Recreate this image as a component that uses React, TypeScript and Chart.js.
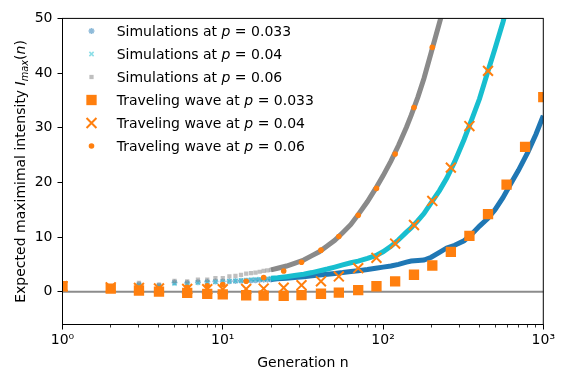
import React, { useEffect, useRef } from 'react';
import { Chart, registerables } from 'chart.js';
import { drawPoint } from 'chart.js/helpers';

Chart.register(...registerables);

const FAMILY = "'DejaVu Sans'";
const ORANGE = '#ff7f0e';

// Traveling-wave generations (log-spaced integers)
const waveN = [1, 2, 3, 4, 6, 8, 10, 14, 18, 24, 31, 41, 53, 70, 91, 119, 156, 203, 265, 346, 452, 590, 770, 1000];
const wave033 = [1.0, 0.55, 0.22, 0.02, -0.22, -0.4, -0.5, -0.65, -0.72, -0.77, -0.62, -0.38, -0.18, 0.28, 1.0, 1.9, 3.1, 4.8, 7.3, 10.2, 14.2, 19.6, 26.5, 35.6];
const wave04 = [1.0, 0.8, 0.7, 0.6, 0.5, 0.45, 0.45, 0.5, 0.57, 0.72, 1.2, 1.9, 2.8, 4.3, 6.2, 8.8, 12.2, 16.6, 22.7, 30.3, 40.4, null, null, null];
const wave06 = [1.0, 0.6, 0.5, 0.5, 0.8, 1.1, 1.3, 1.9, 2.6, 3.8, 5.4, 7.6, 10.1, 14.0, 18.9, 25.2, 33.7, 44.7, null, null, null, null, null, null];

// Simulation generations (sampled)
const simN = [3, 4, 5, 6, 7, 8, 9, 10, 11, 12, 13, 14, 15, 16, 17, 18, 19, 20, 22, 25, 28, 32, 36, 40, 45, 50, 56, 63, 70, 80, 90, 100, 112, 125, 140, 150, 165, 180, 200, 225, 250, 280, 320, 360, 400, 450, 500, 560, 630, 700, 800, 900, 1000];
const sim033 = [1.3, 1.1, 1.7, 1.6, 1.75, 1.8, 1.85, 1.85, 1.9, 1.95, 2.0, 2.0, 2.05, 2.1, 2.15, 2.2, 2.2, 2.25, 2.35, 2.45, 2.6, 2.75, 2.9, 3.05, 3.2, 3.35, 3.5, 3.7, 3.85, 4.05, 4.3, 4.5, 4.7, 5.0, 5.4, 5.6, 5.7, 5.8, 6.3, 7.2, 8.0, 8.5, 9.3, 10.6, 12.0, 13.4, 15.0, 17.2, 19.9, 22.2, 25.5, 28.8, 32.2];
const sim04 = [1.2, 1.0, 1.5, 1.45, 1.65, 1.7, 1.8, 1.85, 1.95, 2.0, 2.05, 2.1, 2.2, 2.25, 2.3, 2.35, 2.4, 2.45, 2.55, 2.75, 2.95, 3.2, 3.5, 3.8, 4.15, 4.5, 4.9, 5.3, 5.6, 6.1, 6.6, 7.3, 8.3, 9.5, 10.9, 11.7, 13.0, 14.3, 16.3, 18.5, 20.8, 23.8, 27.8, 31.7, 35.3, 40.2, 44.5, 49.3, 55.0, null, null, null, null];
const sim06 = [1.6, 1.3, 2.0, 1.9, 2.2, 2.2, 2.5, 2.5, 2.8, 2.9, 3.1, 3.3, 3.4, 3.5, 3.65, 3.8, 3.9, 4.0, 4.3, 4.7, 5.2, 5.8, 6.6, 7.3, 8.4, 9.4, 10.8, 12.3, 14.1, 16.5, 18.9, 21.2, 23.9, 26.8, 30.1, 32.3, 35.6, 39.0, 43.8, 49.2, 54.0, null, null, null, null, null, null, null, null, null, null, null, null];

const xTickLabels = ['10\u2070', '10\u00b9', '10\u00b2', '10\u00b3'];
const yTicks = [0, 10, 20, 30, 40, 50];

const legendLabels = [
  ['Simulations at ', '0.033'],
  ['Simulations at ', '0.04'],
  ['Simulations at ', '0.06'],
  ['Traveling wave at ', '0.033'],
  ['Traveling wave at ', '0.04'],
  ['Traveling wave at ', '0.06'],
];

const pts = (xs: number[], ys: (number | null)[]) =>
  xs.map((x, i) => ({ x, y: ys[i] })).filter((p) => p.y !== null);

const SMALL = 20;

const markerSpecs = [
  { style: 'star', r: 3, fill: 'rgba(31,119,180,0.5)', stroke: 'rgba(31,119,180,0.5)', bw: 1.5 },
  { style: 'crossRot', r: 3, fill: 'rgba(23,190,207,0.5)', stroke: 'rgba(23,190,207,0.5)', bw: 1.5 },
  { style: 'rect', r: 3, fill: 'rgba(127,127,127,0.5)', stroke: 'rgba(127,127,127,0.5)', bw: 0 },
  { style: 'rect', r: 7.3, fill: ORANGE, stroke: ORANGE, bw: 0 },
  { style: 'crossRot', r: 7, fill: ORANGE, stroke: ORANGE, bw: 2 },
  { style: 'circle', r: 2.8, fill: ORANGE, stroke: ORANGE, bw: 0 },
];

const decorPlugin = {
  id: 'decor',
  beforeDatasetsDraw(chart: any) {
    const { ctx, chartArea, scales } = chart;
    const y0 = scales.y.getPixelForValue(0);
    ctx.save();
    ctx.strokeStyle = '#8c8c8c';
    ctx.lineWidth = 2;
    ctx.beginPath();
    ctx.moveTo(chartArea.left, y0);
    ctx.lineTo(chartArea.right, y0);
    ctx.stroke();
    ctx.restore();
  },
  afterDatasetsDraw(chart: any) {
    const { ctx, chartArea, scales } = chart;
    const { left, right, top, bottom } = chartArea;
    ctx.save();
    // frame
    ctx.strokeStyle = '#000';
    ctx.lineWidth = 1;
    ctx.strokeRect(left, top, right - left, bottom - top);
    // x ticks
    for (let e = 0; e <= 3; e++) {
      for (let m = 1; m <= 9; m++) {
        const v = m * Math.pow(10, e);
        if (v > 1000) break;
        const px = Math.round(scales.x.getPixelForValue(v) - 0.5) + 0.5;
        const major = m === 1;
        ctx.lineWidth = major ? 1 : 0.8;
        ctx.beginPath();
        ctx.moveTo(px, bottom);
        ctx.lineTo(px, bottom + (major ? 5 : 3));
        ctx.stroke();
      }
    }
    // y ticks
    ctx.lineWidth = 1;
    yTicks.forEach((v) => {
      const py = Math.round(scales.y.getPixelForValue(v) - 0.5) + 0.5;
      ctx.beginPath();
      ctx.moveTo(left - 5, py);
      ctx.lineTo(left, py);
      ctx.stroke();
    });
    ctx.restore();

    // legend
    const normal = `14px ${FAMILY}`;
    const italic = `italic 14px ${FAMILY}`;
    legendLabels.forEach((lab, i) => {
      const base = 35.6 + 23 * i;
      const my = base - 4.6;
      const s = markerSpecs[i];
      ctx.save();
      ctx.fillStyle = s.fill;
      ctx.strokeStyle = s.stroke;
      ctx.lineWidth = s.bw;
      drawPoint(ctx, { pointStyle: s.style, radius: s.r, borderWidth: s.bw, rotation: 0 } as any, 91.5, my);
      ctx.restore();
      ctx.save();
      ctx.fillStyle = '#000';
      ctx.textBaseline = 'alphabetic';
      ctx.textAlign = 'left';
      let x = 116.7;
      ctx.font = normal;
      ctx.fillText(lab[0], x, base);
      x += ctx.measureText(lab[0]).width;
      ctx.font = italic;
      ctx.fillText('p', x, base);
      x += ctx.measureText('p').width;
      ctx.font = normal;
      ctx.fillText(' = ', x, base);
      x += ctx.measureText(' = ').width;
      ctx.fillText(lab[1], x, base);
      ctx.restore();
    });
  },
  afterDraw(chart: any) {
    const { ctx, chartArea } = chart;
    ctx.save();
    ctx.fillStyle = '#000';
    // x title
    ctx.font = `14px ${FAMILY}`;
    ctx.textAlign = 'center';
    ctx.textBaseline = 'alphabetic';
    ctx.fillText('Generation n', (chartArea.left + chartArea.right) / 2, 367);
    // y title
    const parts = [
      { t: 'Expected maximimal intensity ', f: `14px ${FAMILY}`, dy: 0 },
      { t: 'I', f: `italic 14px ${FAMILY}`, dy: 0 },
      { t: 'max', f: `italic 9.8px ${FAMILY}`, dy: 3 },
      { t: '(', f: `14px ${FAMILY}`, dy: 0 },
      { t: 'n', f: `italic 14px ${FAMILY}`, dy: 0 },
      { t: ')', f: `14px ${FAMILY}`, dy: 0 },
    ];
    let total = 0;
    parts.forEach((p) => {
      ctx.font = p.f;
      total += ctx.measureText(p.t).width;
    });
    ctx.translate(20, (chartArea.top + chartArea.bottom) / 2);
    ctx.rotate(-Math.PI / 2);
    ctx.textAlign = 'left';
    let x = -total / 2;
    parts.forEach((p) => {
      ctx.font = p.f;
      ctx.fillText(p.t, x, 5 + p.dy);
      x += ctx.measureText(p.t).width;
    });
    ctx.restore();
  },
};

export default function App() {
  const ref = useRef<HTMLCanvasElement>(null);
  useEffect(() => {
    document.body.style.margin = '0';
    const canvas = ref.current!;
    const simDataset = (label: string, ys: (number | null)[], line: string, idx: number, order: number) => {
      const s = markerSpecs[idx];
      return {
        label,
        data: pts(simN, ys),
        showLine: true,
        borderColor: line,
        borderWidth: 5,
        borderCapStyle: 'butt',
        clip: 0,
        segment: {
          borderColor: (c: any) => (c.p0.parsed.x < SMALL ? 'rgba(0,0,0,0)' : undefined),
        },
        pointStyle: s.style,
        pointRadius: (c: any) => (c.raw && c.raw.x <= SMALL ? s.r : 0),
        pointHoverRadius: 0,
        pointBackgroundColor: s.fill,
        pointBorderColor: s.stroke,
        pointBorderWidth: s.bw,
        order,
      };
    };
    const waveDataset = (label: string, ys: (number | null)[], idx: number, order: number) => {
      const s = markerSpecs[idx];
      return {
        label,
        data: pts(waveN, ys),
        showLine: false,
        pointStyle: s.style,
        pointRadius: s.r,
        pointHoverRadius: s.r,
        backgroundColor: s.fill,
        borderColor: s.stroke,
        pointBackgroundColor: s.fill,
        pointBorderColor: s.stroke,
        pointBorderWidth: s.bw,
        borderWidth: s.bw,
        order,
      };
    };
    const chart = new Chart(canvas, {
      type: 'scatter',
      data: {
        datasets: [
          simDataset('Simulations at p = 0.033', sim033, '#1f77b4', 0, 6),
          simDataset('Simulations at p = 0.04', sim04, '#17becf', 1, 5),
          simDataset('Simulations at p = 0.06', sim06, '#8a8a8a', 2, 4),
          waveDataset('Traveling wave at p = 0.033', wave033, 3, 3),
          waveDataset('Traveling wave at p = 0.04', wave04, 4, 2),
          waveDataset('Traveling wave at p = 0.06', wave06, 5, 1),
        ] as any,
      },
      options: {
        responsive: false,
        animation: false,
        events: [],
        layout: { padding: { left: 0, top: 12.5, right: 17.5, bottom: 0 } },
        plugins: { legend: { display: false }, tooltip: { enabled: false } },
        scales: {
          x: {
            type: 'logarithmic',
            min: 1,
            max: 1000,
            grid: { display: false, drawTicks: false },
            border: { display: false },
            ticks: {
              autoSkip: false,
              maxRotation: 0,
              padding: 7,
              color: '#000',
              font: { family: 'DejaVu Sans', size: 14 },
              callback: (v: any) => {
                const e = Math.log10(Number(v));
                const r = Math.round(e);
                return Math.abs(e - r) < 1e-9 && r >= 0 && r < xTickLabels.length ? xTickLabels[r] : '';
              },
            },
            afterFit: (s: any) => {
              s.height = 43.5;
            },
          },
          y: {
            type: 'linear',
            min: -6,
            max: 50,
            grid: { display: false, drawTicks: false },
            border: { display: false },
            ticks: {
              stepSize: 10,
              includeBounds: false,
              padding: 10,
              color: '#000',
              font: { family: 'DejaVu Sans', size: 14 },
            },
            afterFit: (s: any) => {
              s.width = 62.5;
            },
          },
        },
      } as any,
      plugins: [decorPlugin],
    });
    return () => chart.destroy();
  }, []);
  return (
    <div style={{ width: 562, height: 368 }}>
      <canvas ref={ref} width={562} height={368} style={{ display: 'block' }} />
    </div>
  );
}
